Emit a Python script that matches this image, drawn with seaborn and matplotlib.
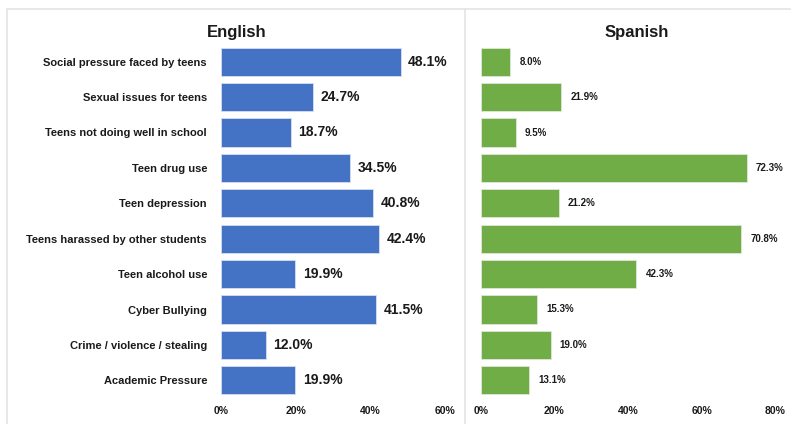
import matplotlib
matplotlib.use("Agg")
import matplotlib.pyplot as plt
import matplotlib.lines as mlines
import seaborn as sns
import pandas as pd

categories = [
    "Social pressure faced by teens",
    "Sexual issues for teens",
    "Teens not doing well in school",
    "Teen drug use",
    "Teen depression",
    "Teens harassed by other students",
    "Teen alcohol use",
    "Cyber Bullying",
    "Crime / violence / stealing",
    "Academic Pressure",
]
english_pct = [48.1, 24.7, 18.7, 34.5, 40.8, 42.4, 19.9, 41.5, 12.0, 19.9]
spanish_pct = [8.0, 21.9, 9.5, 72.3, 21.2, 70.8, 42.3, 15.3, 19.0, 13.1]
english_ticks = [0, 20, 40, 60]
spanish_ticks = [0, 20, 40, 60, 80]

sns.set_theme(style="white")
plt.rcParams["font.family"] = ["Liberation Sans", "DejaVu Sans"]

BLUE = "#4472C4"
GREEN = "#70AD47"
TEXT = "#1a1a1a"

fig = plt.figure(figsize=(7.91, 4.24), dpi=100)

# panel frames
frame_c = "#e4e4e4"
fig.add_artist(mlines.Line2D([7 / 791, 1], [1 - 9 / 424, 1 - 9 / 424], color=frame_c, lw=1.2))
fig.add_artist(mlines.Line2D([7 / 791, 7 / 791], [0, 1 - 9 / 424], color=frame_c, lw=1.2))
fig.add_artist(mlines.Line2D([465 / 791, 465 / 791], [0, 1 - 9 / 424], color=frame_c, lw=1.2))

ax_bottom = 1 - 398 / 424
ax_height = 354 / 424
ax_en = fig.add_axes([221 / 791, ax_bottom, 224 / 791, ax_height])
ax_es = fig.add_axes([481 / 791, ax_bottom, 294 / 791, ax_height])

df = pd.DataFrame({"category": categories, "English": english_pct, "Spanish": spanish_pct})


def draw_panel(ax, col, color, ticks, title, label_size, label_gap, show_labels):
    sns.barplot(data=df, y="category", x=col, orient="h", color=color,
                width=0.8, edgecolor="#dfe8d8" if color == GREEN else "#d6dff0",
                linewidth=0.6, saturation=1, ax=ax)
    ax.set_xlim(ticks[0], ticks[-1])
    ax.set_ylim(len(categories) - 0.5, -0.5)
    ax.set_xticks(ticks)
    ax.set_xticklabels([f"{t}%" for t in ticks], fontsize=7.5, fontweight="bold", color=TEXT)
    ax.tick_params(axis="x", length=0, pad=6)
    ax.tick_params(axis="y", length=0, pad=10)
    if show_labels:
        ax.set_yticks(range(len(categories)))
        ax.set_yticklabels(categories, fontsize=8, fontweight="bold", color=TEXT)
    else:
        ax.set_yticks([])
    ax.set_xlabel("")
    ax.set_ylabel("")
    for s in ax.spines.values():
        s.set_visible(False)
    for i, v in enumerate(df[col]):
        ax.annotate(f"{v:.1f}%", xy=(v, i), xytext=(label_gap, 0), textcoords="offset points",
                    va="center", ha="left", fontsize=label_size, fontweight="bold", color=TEXT)
    ax.set_title(title, fontsize=12, fontweight="bold", color=TEXT, pad=5)


draw_panel(ax_en, "English", BLUE, english_ticks, "English", 10, 5.5, True)
draw_panel(ax_es, "Spanish", GREEN, spanish_ticks, "Spanish", 7, 6.5, False)

# place the titles over their panels
ax_en.title.set_position((0.07, 1.0))
ax_es.title.set_position((0.53, 1.0))

fig.savefig("out.png", dpi=100)
